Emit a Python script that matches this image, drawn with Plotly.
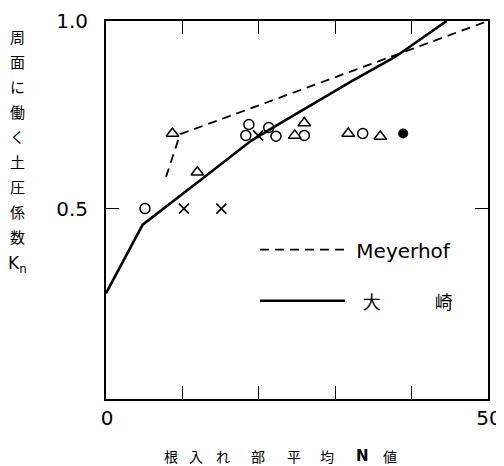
import plotly.graph_objects as go

# ---- data ----
circle_x = [5.1, 18.7, 18.3, 21.3, 22.25, 25.96, 33.6]
circle_y = [0.50, 0.724, 0.695, 0.716, 0.693, 0.695, 0.70]

triangle_x = [8.7, 11.95, 24.7, 25.96, 31.7, 35.9]
triangle_y = [0.70, 0.597, 0.695, 0.728, 0.70, 0.692]

cross_x = [10.2, 15.1, 19.9]
cross_y = [0.50, 0.50, 0.695]

filled_x = [38.9]
filled_y = [0.70]

meyerhof_x = [7.85, 9.7, 50.0]
meyerhof_y = [0.584, 0.698, 1.0]

osaki_x = [0.0, 4.8, 12.3, 19.07, 22.34, 31.94, 37.83, 44.6]
osaki_y = [0.274, 0.457, 0.575, 0.682, 0.722, 0.837, 0.904, 1.0]

x_tickvals = [0, 50]
x_ticktext = ["0", "50"]
x_minor_ticks = [10, 20, 30, 40]
y_tickvals = [0.5, 1.0]
y_ticktext = ["0.5", "1.0"]

y_title_chars = ["周", "面", "に", "働", "く", "土", "圧", "係", "数", "K<sub>n</sub>"]
x_title_chars = ["根", "入", "れ", "部", "平", "均", "<b>N</b>", "値"]

# ---- figure geometry ----
# the page body adds an 8px margin, so the figure is drawn 8px smaller
# and everything is laid out in reference pixels minus that offset
OFF = 8
W, H = 504 - OFF, 466 - OFF
L, R, T, B = 106 - OFF, 16, 20.5 - OFF, 67
PW, PH = W - L - R, H - T - B


def px_to_paper_x(px):
    return (px - OFF - L) / PW


def px_to_paper_y(py):
    return (H - B - (py - OFF)) / PH


NB = "\u00a0"

fig = go.Figure()

fig.add_trace(go.Scatter(
    x=meyerhof_x, y=meyerhof_y, mode="lines", name=NB + "Meyerhof",
    line=dict(color="black", width=1.8, dash="9px,6px"),
    legendgroup="a"))
fig.add_trace(go.Scatter(
    x=osaki_x, y=osaki_y, mode="lines",
    name=NB + NB + '<span style="font-size:18px">大\u3000\u3000\u3000崎</span>',
    line=dict(color="black", width=2.6),
    legendgroup="b"))

fig.add_trace(go.Scatter(
    x=circle_x, y=circle_y, mode="markers", showlegend=False,
    marker=dict(symbol="circle-open", size=10, color="black",
                line=dict(width=1.5, color="black"))))
fig.add_trace(go.Scatter(
    x=triangle_x, y=triangle_y, mode="markers", showlegend=False,
    marker=dict(symbol="triangle-up-open", size=11, color="black",
                line=dict(width=1.5, color="black"))))
fig.add_trace(go.Scatter(
    x=cross_x, y=cross_y, mode="markers", showlegend=False,
    marker=dict(symbol="x-thin-open", size=10, color="black",
                line=dict(width=1.6, color="black"))))
fig.add_trace(go.Scatter(
    x=filled_x, y=filled_y, mode="markers", showlegend=False,
    marker=dict(symbol="circle", size=10, color="black")))

axis_common = dict(
    showline=True, linecolor="black", linewidth=2, mirror="ticks",
    ticks="inside", ticklen=13, tickwidth=1.3, tickcolor="black",
    showgrid=False, zeroline=False, automargin=False,
    tickfont=dict(family="DejaVu Sans", size=20, color="black"),
)

fig.update_xaxes(range=[0, 50], tickmode="array", tickvals=x_tickvals,
                 ticktext=x_ticktext, ticklabelstandoff=0, ticklabelshift=1,
                 minor=dict(tickmode="array", tickvals=x_minor_ticks,
                            ticks="inside", ticklen=13, tickwidth=1.3,
                            tickcolor="black", showgrid=False),
                 **axis_common)
fig.update_yaxes(range=[-0.0077, 1.0], tickmode="array", tickvals=y_tickvals,
                 ticktext=y_ticktext, ticklabelstandoff=12, **axis_common)

annotations = []
for i, ch in enumerate(y_title_chars):
    annotations.append(dict(
        text=ch, xref="paper", yref="paper",
        x=px_to_paper_x(17), y=px_to_paper_y(36 + 25 * i + (3 if i == 9 else 0)),
        showarrow=False, xanchor="center", yanchor="middle",
        font=dict(family="Noto Sans CJK JP" if i < 9 else "DejaVu Sans",
                  size=15 if i < 9 else 17, color="black")))

x_title_px = [171, 196, 223, 258, 294, 327, 362, 390]
for ch, xp in zip(x_title_chars, x_title_px):
    annotations.append(dict(
        text=ch, xref="paper", yref="paper",
        x=px_to_paper_x(xp), y=px_to_paper_y(456),
        showarrow=False, xanchor="center", yanchor="middle",
        font=dict(family="DejaVu Sans" if "N" in ch else "Noto Sans CJK JP",
                  size=15 if "N" in ch else 14, color="black")))

fig.update_layout(
    width=W, height=H,
    margin=dict(l=L, r=R, t=T, b=B, pad=0),
    paper_bgcolor="white", plot_bgcolor="white",
    showlegend=True,
    legend=dict(
        x=px_to_paper_x(255), y=px_to_paper_y(230),
        xanchor="left", yanchor="top",
        bgcolor="rgba(0,0,0,0)", borderwidth=0,
        itemwidth=85, tracegroupgap=22,
        font=dict(family="DejaVu Sans, Noto Sans CJK JP", size=20, color="black"),
    ),
    annotations=annotations,
)

fig.write_html("out.html")
